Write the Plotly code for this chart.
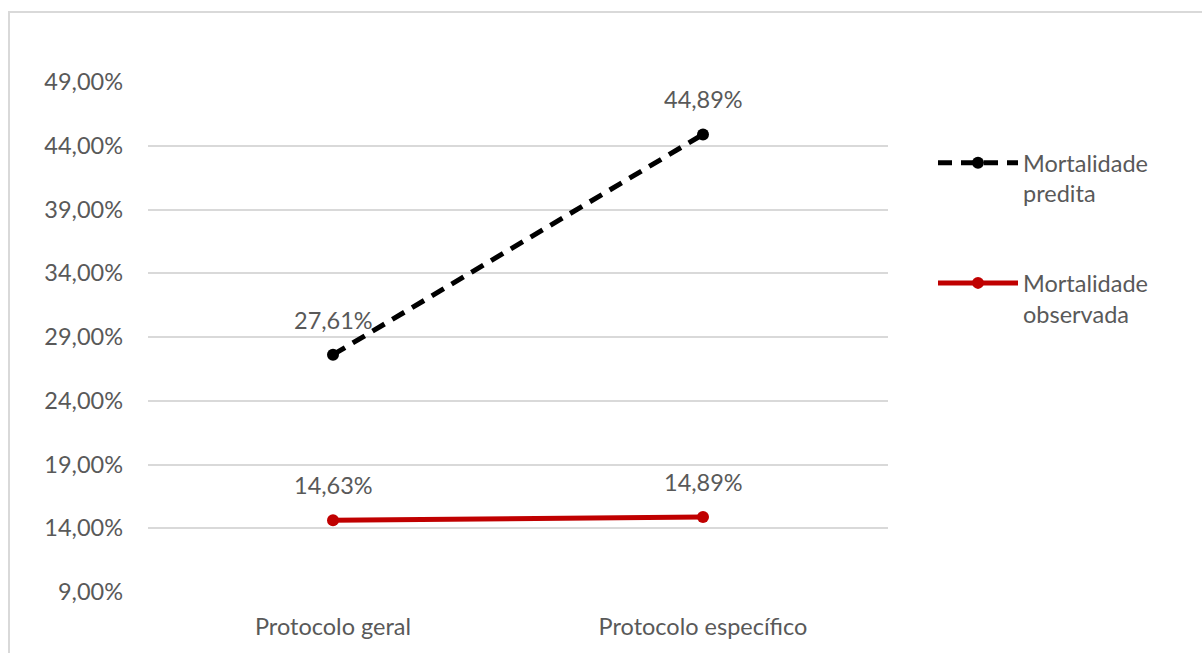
import plotly.graph_objects as go

categories = ["Protocolo geral", "Protocolo específico"]
predita = [0.2761, 0.4489]
observada = [0.1463, 0.1489]
series_names = ["Mortalidade<br>predita", "Mortalidade<br>observada"]

FONT = "Lato"
GRAY = "#595959"
FS = 23.5

fig = go.Figure()
fig.add_trace(go.Scatter(
    x=categories, y=predita, name=series_names[0], mode="lines+markers",
    line=dict(color="#000000", width=5, dash="14px,9px"),
    marker=dict(size=12, color="#000000"), legendgroup="a"))
fig.add_trace(go.Scatter(
    x=categories, y=observada, name=series_names[1], mode="lines+markers",
    line=dict(color="#C00000", width=5),
    marker=dict(size=12, color="#C00000"), legendgroup="b"))

def fmt(v):
    return f"{v*100:.2f}%".replace(".", ",")

for series in (predita, observada):
    for c, v in zip(categories, series):
        fig.add_annotation(x=c, y=v, text=fmt(v), showarrow=False, yshift=35,
                           font=dict(family=FONT, size=FS, color=GRAY))

fig.add_shape(type="rect", xref="paper", yref="paper",
              x0=(9 - 148) / 740, x1=(1210 - 148) / 740,
              y0=-0.3, y1=(592 - 12) / 510,
              line=dict(color="#d9d9d9", width=2), layer="below")

fig.update_layout(
    width=1202, height=653,
    margin=dict(l=148, r=314, t=82, b=61),
    paper_bgcolor="white", plot_bgcolor="white",
    separators=",.",
    font=dict(family=FONT, size=FS, color=GRAY),
    xaxis=dict(type="category", range=[-0.5, 1.5], showgrid=False, showline=False,
               zeroline=False, ticks="", ticklabelstandoff=18,
               tickfont=dict(family=FONT, size=FS, color=GRAY)),
    yaxis=dict(range=[0.09, 0.49], tick0=0.09, dtick=0.05, tickformat=".2%",
               showgrid=True, gridcolor="#d9d9d9", gridwidth=2, zeroline=False,
               showline=False, ticks="", ticklabelstandoff=24,
               tickfont=dict(family=FONT, size=FS, color=GRAY)),
    legend=dict(x=(933 - 148) / 740, xanchor="left", y=(592 - 141) / 510, yanchor="top",
                valign="top", traceorder="grouped", tracegroupgap=56,
                font=dict(family=FONT, size=FS, color=GRAY), itemwidth=80),
    showlegend=True,
)

fig.write_html("out.html")
